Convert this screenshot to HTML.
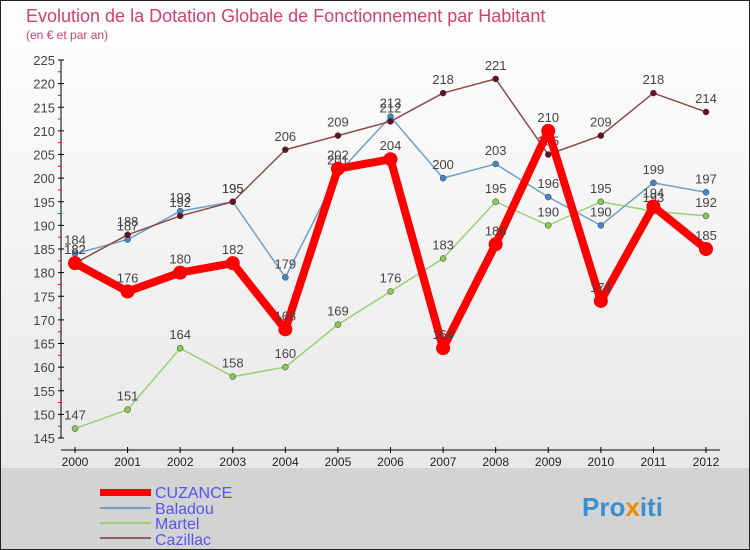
<!DOCTYPE html>
<html><head><meta charset="utf-8"><style>
body{margin:0}
svg{display:block;font-family:"Liberation Sans",sans-serif}
</style></head><body>
<svg id="c" width="750" height="550">
<defs><linearGradient id="bg" x1="0" y1="0" x2="0" y2="1"><stop offset="0" stop-color="#ffffff"/><stop offset="1" stop-color="#e4e4e4"/></linearGradient></defs>
<rect x="0" y="0" width="750" height="550" fill="url(#bg)"/>
<rect x="1" y="468" width="748" height="81" fill="#d3d3d3"/>
<rect x="0.5" y="0.5" width="749" height="549" fill="none" stroke="#222"/>
<text x="26" y="22" font-size="18" fill="#d1406e">Evolution de la Dotation Globale de Fonctionnement par Habitant</text>
<text x="26" y="39" font-size="12" fill="#d1406e">(en € et par an)</text>
<g id="axes"></g><g id="series"></g>
<g>
<rect x="100" y="489" width="51" height="7" fill="#f00"/>
<text x="155" y="498" font-size="16" fill="#5555ee">CUZANCE</text>
<rect x="100" y="507" width="51" height="2" fill="#6fa0c8"/>
<text x="155" y="514" font-size="16" fill="#5555ee">Baladou</text>
<rect x="100" y="522" width="51" height="2" fill="#99d077"/>
<text x="155" y="529" font-size="16" fill="#5555ee">Martel</text>
<rect x="100" y="537" width="51" height="2" fill="#8c6060"/>
<text x="155" y="545" font-size="16" fill="#5555ee">Cazillac</text>
</g>
<text x="582" y="516" font-size="26" font-weight="bold" fill="#3a8fd0">Pro<tspan fill="#f08a00">x</tspan>iti</text>
</svg>
<script>
const years=[2000,2001,2002,2003,2004,2005,2006,2007,2008,2009,2010,2011,2012];
const cuzance=[182,176,180,182,168,202,204,164,186,210,174,194,185];
const baladou=[184,187,193,195,179,201,213,200,203,196,190,199,197];
const martel=[147,151,164,158,160,169,176,183,195,190,195,193,192];
const cazillac=[182,188,192,195,206,209,212,218,221,205,209,218,214];
const yTicks=[145,150,155,160,165,170,175,180,185,190,195,200,205,210,215,220,225];
const NS="http://www.w3.org/2000/svg";
const x=i=>75+i*(706-75)/(years.length-1);
const y=v=>60+(225-v)*(438-60)/80;
function mk(t,a,p){const e=document.createElementNS(NS,t);for(const k in a)e.setAttribute(k,a[k]);p.appendChild(e);return e;}
const ax=document.getElementById('axes');
let yl=mk('line',{x1:61,y1:y(225),x2:61,y2:y(145),stroke:'#000'},ax);


let xl=mk('line',{x1:61,y1:450,x2:720,y2:450,stroke:'#000'},ax);


yTicks.forEach((v,i)=>{
  mk('line',{x1:58,y1:y(v),x2:64,y2:y(v),stroke:'#000'},ax);
  if(i<yTicks.length-1)mk('line',{x1:58,y1:y(v+2.5),x2:61,y2:y(v+2.5),stroke:'#f00'},ax);
  const t=mk('text',{x:55,y:y(v)+5,'text-anchor':'end','font-size':13,fill:'#444'},ax);
  
  
  t.textContent=v;
});
years.forEach((yr,i)=>{
  mk('line',{x1:x(i),y1:447,x2:x(i),y2:453,stroke:'#000'},ax);
  const t=mk('text',{x:x(i),y:466,'text-anchor':'middle','font-size':12,fill:'#222'},ax);
  
  
  t.textContent=yr;
});
const sg=document.getElementById('series');
function draw(name,data,color,w,r,dot,fs){
  const g=mk('g',{},sg);
  
  
  const l=mk('polyline',{points:data.map((v,i)=>x(i)+','+y(v)).join(' '),fill:'none',stroke:color,'stroke-width':w,'stroke-linejoin':'round'},g);
  
  
  data.forEach((v,i)=>{
    const c=mk('circle',{cx:x(i),cy:y(v),r:r,fill:dot,stroke:'#333','stroke-width':w>4?0:0.5},g);
    
    
    const t=mk('text',{x:x(i),y:y(v)-9,'text-anchor':'middle','font-size':fs,fill:'#444'},g);
    
    
    t.textContent=v;
  });
}
draw('martel',martel,'#99d077',1.5,3,'#88cc55',13);
draw('baladou',baladou,'#6fa0c8',1.5,3,'#4488cc',13);
draw('cazillac',cazillac,'#8c4a4a',1.5,3,'#661122',13);
draw('cuzance',cuzance,'#f00',8,7,'#f00',13);
</script>
</body></html>
